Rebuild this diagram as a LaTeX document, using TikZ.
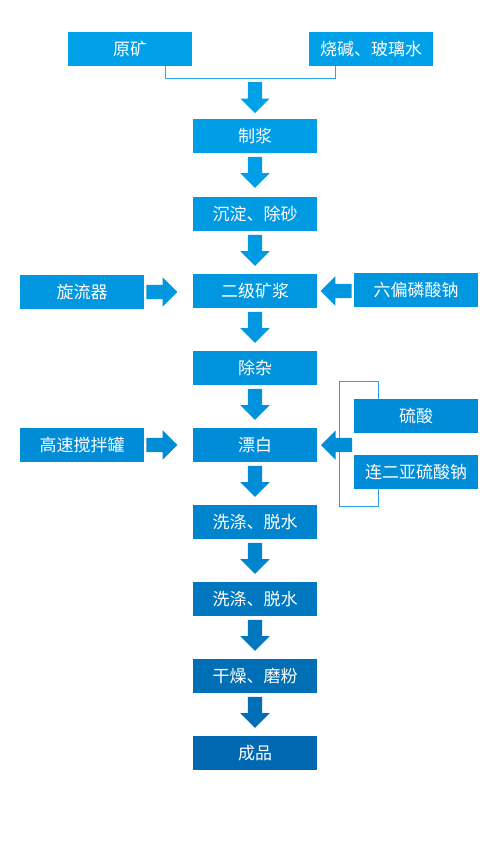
\documentclass[tikz,border=0pt]{standalone}
\usepackage{fontspec}
\setmainfont{Noto Sans CJK SC}
\usetikzlibrary{shapes.arrows,calc}
\definecolor{c0}{HTML}{00A0E9}
\definecolor{c1}{HTML}{009EE7}
\definecolor{c2}{HTML}{009AE3}
\definecolor{c3}{HTML}{0097E0}
\definecolor{c4}{HTML}{0092DB}
\definecolor{c5}{HTML}{008CD6}
\definecolor{c6}{HTML}{0084CD}
\definecolor{c7}{HTML}{0077BF}
\definecolor{c8}{HTML}{006FB6}
\definecolor{c9}{HTML}{0068B0}
\definecolor{linec}{HTML}{2AA3E4}
\begin{document}
\begin{tikzpicture}[x=1pt,y=-1pt,
  box/.style={draw=none,minimum width=124pt,minimum height=34pt,inner sep=0pt,
    text=white,font=\fontsize{17pt}{20pt}\selectfont},
  blockarr/.style={single arrow,draw=none,minimum height=31pt,inner sep=7pt,
    single arrow head extend=7.5pt,single arrow tip angle=90},
  darr/.style={blockarr,shape border rotate=270,anchor=tail},
  rarr/.style={blockarr,shape border rotate=0,anchor=tail},
  larr/.style={blockarr,shape border rotate=180,anchor=tail},
  bracket/.style={draw=linec,line width=1.1pt}
]
\useasboundingbox (0,0) rectangle (500,844);
\fill[white] (0,0) rectangle (500,844);

% top inputs
\node[box,fill=c0] (yk) at (130,49) {原矿};
\node[box,fill=c0] (sj) at (371,49) {烧碱、玻璃水};
\coordinate (b1) at ($(yk.south east)+(-27,0)$);
\coordinate (b2) at ($(sj.south west)+(27,0)$);
\draw[bracket] (b1) -- ++(0,12.5) -| (b2);
\coordinate (bm) at (255,79);

% main column
\node[box,fill=c1] (zj) at (255,136) {制浆};
\node[box,fill=c2] (cd) at (255,214) {沉淀、除砂};
\node[box,fill=c3] (ej) at (255,291) {二级矿浆};
\node[box,fill=c4] (cz) at (255,368) {除杂};
\node[box,fill=c5] (pb) at (255,445) {漂白};
\node[box,fill=c6] (xd1) at (255,522) {洗涤、脱水};
\node[box,fill=c7] (xd2) at (255,599) {洗涤、脱水};
\node[box,fill=c8] (gz) at (255,676) {干燥、磨粉};
\node[box,fill=c9] (cp) at (255,753) {成品};

% side inputs
\node[box,fill=c3] (xl) at (82,292) {旋流器};
\node[box,fill=c3] (lp) at (416,290) {六偏磷酸钠};
\node[box,fill=c5] (gs) at (82,445) {高速搅拌罐};
\node[box,fill=c5] (ls) at (416,416) {硫酸};
\node[box,fill=c5] (le) at (416,472) {连二亚硫酸钠};

% bracket around 硫酸 / 连二亚硫酸钠
\coordinate (rt) at ($(ls.north west)+(25,-17)$);
\coordinate (rb) at ($(le.south west)+(25,17)$);
\draw[bracket] (ls.north west -| rt) -- (rt) -- ++(-39,0) coordinate (lt)
  -- (lt |- rb) -- (rb) -- (le.south west -| rb);

% down arrows
\node[darr,fill=c0] at ($(bm)+(0,3)$) {};
\node[darr,fill=c1] at ($(zj.south)+(0,3.5)$) {};
\node[darr,fill=c2] at ($(cd.south)+(0,3.5)$) {};
\node[darr,fill=c3] at ($(ej.south)+(0,3.5)$) {};
\node[darr,fill=c4] at ($(cz.south)+(0,3.5)$) {};
\node[darr,fill=c5] at ($(pb.south)+(0,3.5)$) {};
\node[darr,fill=c6] at ($(xd1.south)+(0,3.5)$) {};
\node[darr,fill=c7] at ($(xd2.south)+(0,3.5)$) {};
\node[darr,fill=c8] at ($(gz.south)+(0,3.5)$) {};

% side arrows
\node[rarr,fill=c3] at ($(xl.east)+(2,0)$) {};
\node[larr,fill=c3] at ($(ej.east -| lp.west)+(-2,0)$) {};
\node[rarr,fill=c5] at ($(gs.east)+(2,0)$) {};
\node[larr,fill=c5] at ($(pb.east)+(35,0)$) {};
\end{tikzpicture}
\end{document}
